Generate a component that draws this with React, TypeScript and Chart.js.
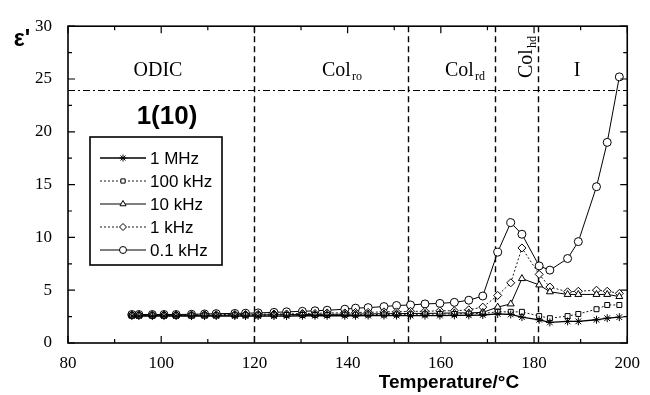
import React, { useEffect, useRef } from "react";
import { Chart, registerables } from "chart.js";
import { drawPoint } from "chart.js/helpers";

Chart.register(...registerables);

const temperatures = [93.7, 95.2, 98.1, 100.6, 103.2, 106.5, 109.3, 111.8, 115.8, 118.1, 120.8, 124.2, 126.9, 130.3, 133.0, 135.6, 139.4, 141.7, 144.4, 147.8, 150.5, 153.5, 156.6, 159.8, 162.9, 166.0, 169.0, 172.2, 175.0, 177.4, 181.1, 183.4, 187.2, 189.5, 193.4, 195.7, 198.3];

const eps1MHz = [2.55, 2.55, 2.55, 2.55, 2.55, 2.55, 2.55, 2.55, 2.55, 2.55, 2.55, 2.55, 2.55, 2.58, 2.58, 2.58, 2.58, 2.58, 2.6, 2.6, 2.6, 2.6, 2.6, 2.6, 2.62, 2.62, 2.65, 2.75, 2.7, 2.45, 2.2, 1.95, 2.05, 2.05, 2.2, 2.35, 2.45];
const eps100kHz = [2.6, 2.6, 2.6, 2.6, 2.6, 2.6, 2.6, 2.6, 2.62, 2.62, 2.62, 2.62, 2.65, 2.65, 2.65, 2.65, 2.68, 2.68, 2.7, 2.7, 2.7, 2.72, 2.72, 2.75, 2.75, 2.78, 2.8, 2.95, 2.95, 2.95, 2.55, 2.35, 2.55, 2.75, 3.2, 3.6, 3.6];
const eps10kHz = [2.62, 2.62, 2.62, 2.62, 2.62, 2.62, 2.62, 2.62, 2.65, 2.65, 2.65, 2.68, 2.68, 2.7, 2.7, 2.72, 2.72, 2.75, 2.75, 2.78, 2.78, 2.8, 2.8, 2.82, 2.85, 2.85, 2.9, 3.4, 3.7, 6.1, 5.5, 4.85, 4.6, 4.6, 4.6, 4.6, 4.4];
const eps1kHz = [2.65, 2.65, 2.65, 2.65, 2.65, 2.65, 2.68, 2.68, 2.7, 2.7, 2.72, 2.75, 2.75, 2.8, 2.8, 2.85, 2.85, 2.9, 2.9, 2.95, 2.95, 3.0, 3.0, 3.05, 3.05, 3.15, 3.4, 4.5, 5.7, 9.0, 6.5, 5.3, 4.85, 4.9, 5.0, 4.9, 4.7];
const eps01kHz = [2.7, 2.7, 2.7, 2.7, 2.7, 2.72, 2.75, 2.78, 2.8, 2.82, 2.85, 2.9, 2.95, 3.0, 3.05, 3.1, 3.2, 3.3, 3.35, 3.45, 3.55, 3.6, 3.7, 3.75, 3.85, 4.05, 4.45, 8.6, 11.4, 10.3, 7.3, 6.9, 8.0, 9.6, 14.8, 19.0, 25.2];

const seriesLabels = ["1 MHz", "100 kHz", "10 kHz", "1 kHz", "0.1 kHz"];
const seriesValues = [eps1MHz, eps100kHz, eps10kHz, eps1kHz, eps01kHz];
const seriesMarkers = ["star", "rect", "triangle", "rectRot", "circle"];
const seriesDashes = [[], [2, 2], [], [2, 2], []];
const seriesWidths = [1.3, 0.9, 1, 0.9, 1];
const seriesRadius = [4, 3.5, 4, 4, 4];

const phaseBoundaries = [120, 153, 171.6, 180.9];
const clearingLevel = 24;
const xTicks = [80, 100, 120, 140, 160, 180, 200];
const yTicks = [0, 5, 10, 15, 20, 25, 30];

const serif = "'Liberation Serif', 'Times New Roman', serif";
const sans = "'Liberation Sans', Arial, sans-serif";

const overlay = {
  id: "overlay",
  beforeDatasetsDraw(chart: any) {
    const ctx = chart.ctx;
    const { left, right, top, bottom } = chart.chartArea;
    const xs = chart.scales.x;
    const ys = chart.scales.y;
    ctx.save();
    ctx.strokeStyle = "#000";
    ctx.lineWidth = 1.4;
    ctx.setLineDash([6, 4]);
    phaseBoundaries.forEach((t) => {
      const x = Math.round(xs.getPixelForValue(t)) + 0.5;
      ctx.beginPath();
      ctx.moveTo(x, top);
      ctx.lineTo(x, bottom);
      ctx.stroke();
    });
    ctx.lineWidth = 1;
    ctx.setLineDash([7, 3, 2, 3]);
    const yl = Math.round(ys.getPixelForValue(clearingLevel)) + 0.5;
    ctx.beginPath();
    ctx.moveTo(left, yl);
    ctx.lineTo(right, yl);
    ctx.stroke();
    ctx.restore();
  },
  afterDraw(chart: any) {
    const ctx = chart.ctx;
    const { left, right, top, bottom } = chart.chartArea;
    const xs = chart.scales.x;
    const ys = chart.scales.y;
    ctx.save();
    ctx.strokeStyle = "#000";
    ctx.fillStyle = "#000";
    ctx.setLineDash([]);
    // frame
    ctx.lineWidth = 1.6;
    ctx.strokeRect(left, top, right - left, bottom - top);
    // ticks (inward, mirrored)
    ctx.lineWidth = 1.2;
    for (let v = 80; v <= 200; v += 10) {
      const x = xs.getPixelForValue(v);
      const len = v % 20 === 0 ? 7 : 4;
      ctx.beginPath();
      ctx.moveTo(x, bottom);
      ctx.lineTo(x, bottom - len);
      ctx.moveTo(x, top);
      ctx.lineTo(x, top + len);
      ctx.stroke();
    }
    for (let v = 0; v <= 30; v += 2.5) {
      const y = ys.getPixelForValue(v);
      const len = v % 5 === 0 ? 7 : 4;
      ctx.beginPath();
      ctx.moveTo(left, y);
      ctx.lineTo(left + len, y);
      ctx.moveTo(right, y);
      ctx.lineTo(right - len, y);
      ctx.stroke();
    }
    // y title
    ctx.font = `bold 23px ${sans}`;
    ctx.textAlign = "center";
    ctx.textBaseline = "middle";
    ctx.fillText("ε'", 22, 40);
    // x title
    ctx.font = `bold 19px ${sans}`;
    ctx.fillText("Temperature/°C", 449, 383);
    // phase labels
    const base = 76;
    ctx.textBaseline = "alphabetic";
    ctx.font = `20px ${serif}`;
    ctx.textAlign = "center";
    ctx.fillText("ODIC", 158, base);
    ctx.fillText("I", 577, base);
    const withSub = (main: string, sub: string, x: number, y: number) => {
      ctx.textAlign = "left";
      ctx.font = `20px ${serif}`;
      ctx.fillText(main, x, y);
      const w = ctx.measureText(main).width;
      ctx.font = `12px ${serif}`;
      ctx.fillText(sub, x + w + 1, y + 4);
    };
    withSub("Col", "ro", 322, base);
    withSub("Col", "rd", 445, base);
    ctx.save();
    ctx.translate(532, 78);
    ctx.rotate(-Math.PI / 2);
    withSub("Col", "hd", 0, 0);
    ctx.restore();
    // compound label
    ctx.textAlign = "center";
    ctx.textBaseline = "middle";
    ctx.font = `bold 26px ${sans}`;
    ctx.fillText("1(10)", 167, 117);
    // legend
    const bx = 90, by = 137, bw = 132, bh = 128;
    ctx.fillStyle = "#fff";
    ctx.fillRect(bx, by, bw, bh);
    ctx.lineWidth = 1.6;
    ctx.strokeStyle = "#000";
    ctx.strokeRect(bx, by, bw, bh);
    chart.data.datasets.forEach((ds: any, i: number) => {
      const y = 158 + i * 23;
      ctx.strokeStyle = "#000";
      ctx.lineWidth = ds.borderWidth;
      ctx.setLineDash(ds.borderDash || []);
      ctx.beginPath();
      ctx.moveTo(100, y);
      ctx.lineTo(146, y);
      ctx.stroke();
      ctx.setLineDash([]);
      ctx.fillStyle = "#fff";
      ctx.lineWidth = 1;
      drawPoint(ctx, { pointStyle: ds.pointStyle, radius: ds.pointRadius - 0.5, rotation: 0, borderWidth: 1 }, 123, y);
      ctx.fillStyle = "#000";
      ctx.font = `17px ${sans}`;
      ctx.textAlign = "left";
      ctx.textBaseline = "middle";
      ctx.fillText(ds.label, 150, y + 1);
    });
    ctx.restore();
  },
};

export default function App() {
  const canvasRef = useRef<HTMLCanvasElement | null>(null);
  useEffect(() => {
    const canvas = canvasRef.current;
    if (!canvas) return;
    const datasets = seriesLabels.map((label, i) => ({
      label,
      data: temperatures.map((t, j) => ({ x: t, y: seriesValues[i][j] })),
      borderColor: "#000",
      backgroundColor: "#fff",
      borderWidth: seriesWidths[i],
      borderDash: seriesDashes[i],
      pointStyle: seriesMarkers[i],
      pointRadius: seriesRadius[i],
      pointBorderWidth: 1,
      pointBorderColor: "#000",
      pointBackgroundColor: "#fff",
      tension: 0,
      fill: false,
    }));
    const chart = new Chart(canvas, {
      type: "line",
      data: { datasets },
      options: {
        responsive: false,
        animation: false,
        layout: { padding: { left: 0, right: 12, top: 20, bottom: 0 } },
        plugins: { legend: { display: false }, tooltip: { enabled: false } },
        scales: {
          x: {
            type: "linear",
            min: 80,
            max: 200,
            afterBuildTicks: (s: any) => { s.ticks = xTicks.map((v) => ({ value: v })); },
            afterFit: (s: any) => { s.height = 52; },
            grid: { display: false, drawTicks: false },
            border: { display: false },
            ticks: { color: "#000", font: { family: serif, size: 17 }, padding: 10, maxRotation: 0 },
          },
          y: {
            type: "linear",
            min: 0,
            max: 30,
            afterBuildTicks: (s: any) => { s.ticks = yTicks.map((v) => ({ value: v })); },
            afterFit: (s: any) => { s.width = 68; },
            grid: { display: false, drawTicks: false },
            border: { display: false },
            ticks: { color: "#000", font: { family: serif, size: 17 }, padding: 16 },
          },
        },
      },
      plugins: [overlay],
    } as any);
    return () => chart.destroy();
  }, []);
  return (
    <div style={{ position: "fixed", left: 0, top: 0, width: 650, height: 395, background: "#fff" }}>
      <canvas ref={canvasRef} width={650} height={395} style={{ display: "block" }} />
    </div>
  );
}
